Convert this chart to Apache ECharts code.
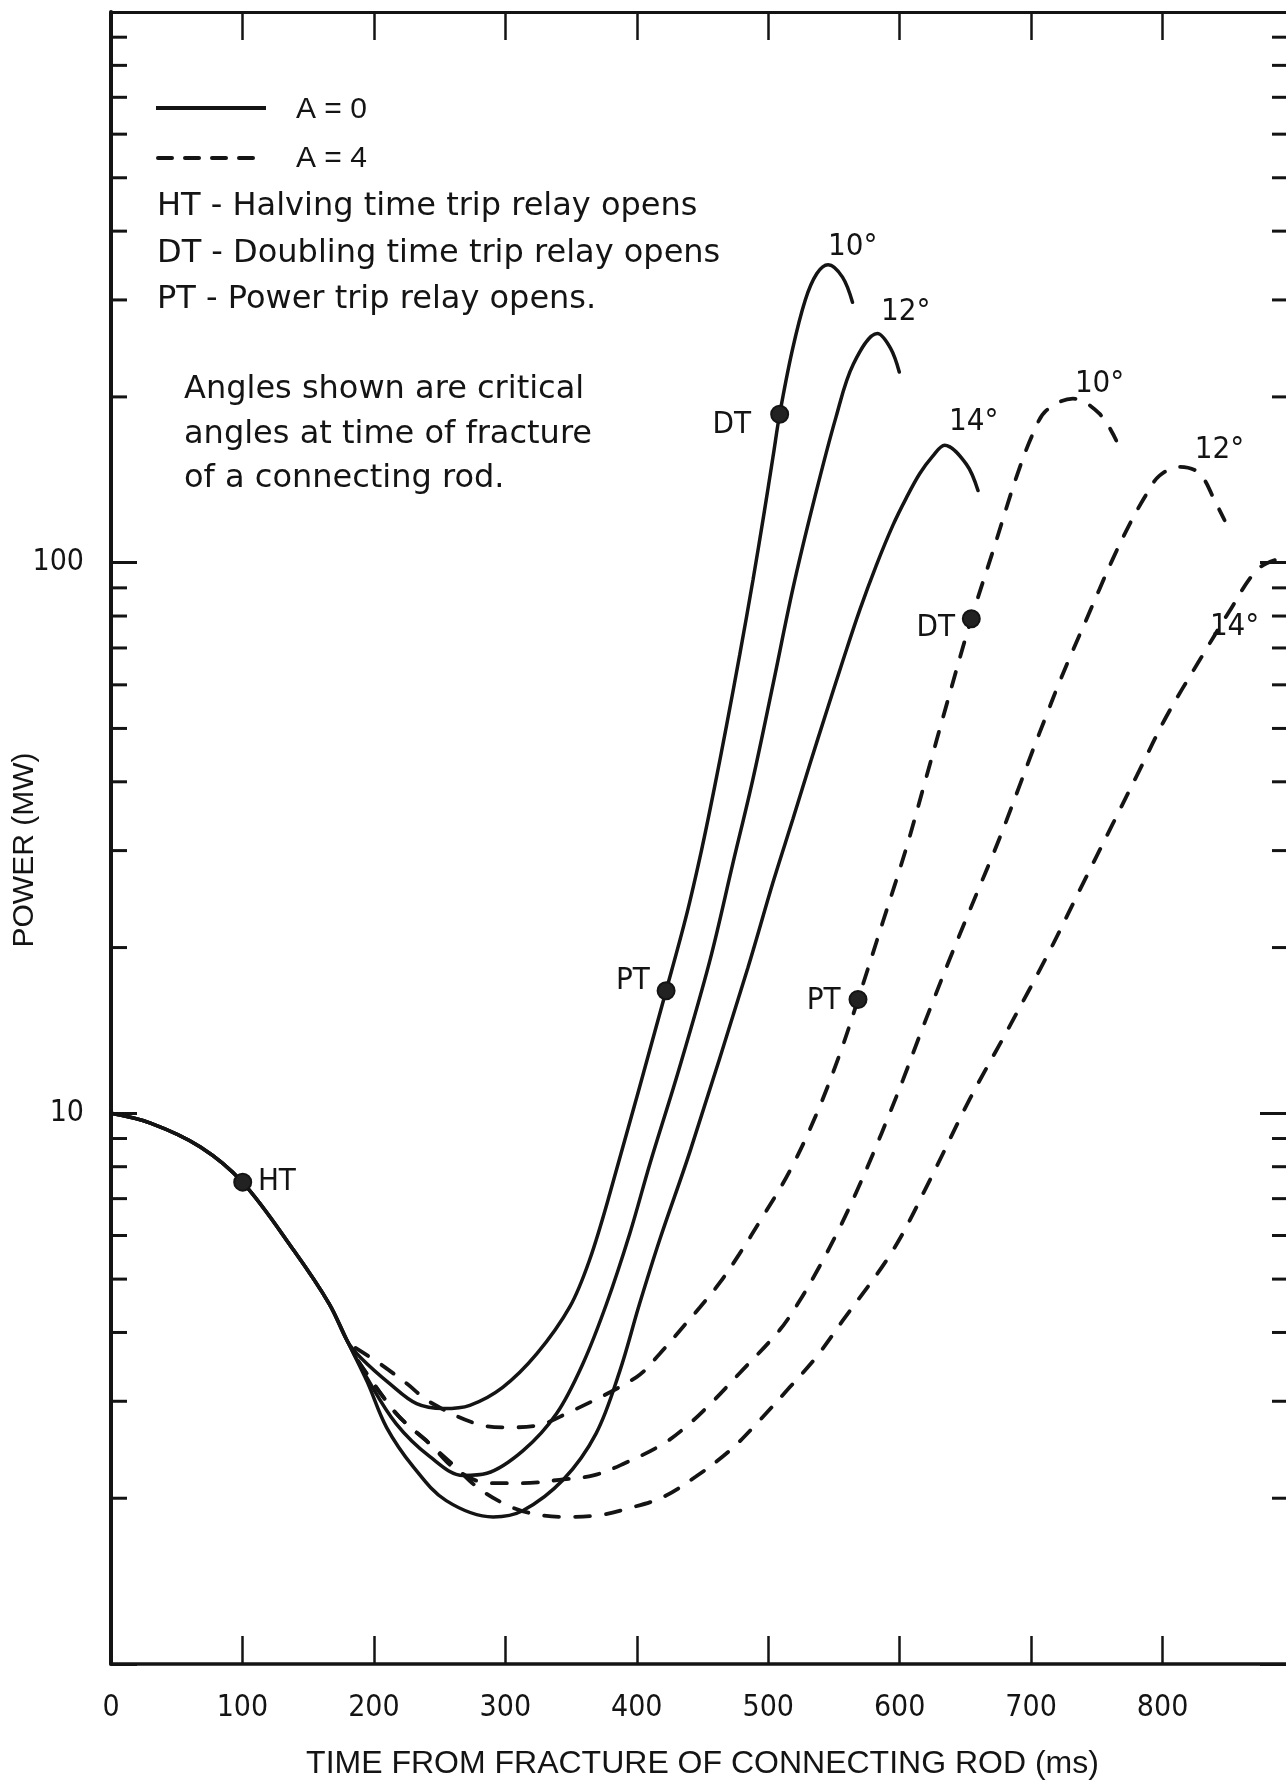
<!DOCTYPE html>
<html>
<head>
<meta charset="utf-8">
<title>Power after connecting rod fracture</title>
<script src="https://cdn.jsdelivr.net/npm/echarts@6/dist/echarts.min.js"></script>
<style>
  html, body { margin: 0; padding: 0; background: #fff; }
  #chart { width: 1286px; height: 1783px; }
</style>
</head>
<body>
<div id="chart"></div>
<script>
const ink = '#141414';
const narrow = "'DejaVu Sans Condensed', 'Liberation Sans', sans-serif";
const plain = "'DejaVu Sans', sans-serif";
const sans = "'Liberation Sans', 'DejaVu Sans', sans-serif";

// [time (ms), power (MW)]
// common start of all curves
const trunk = [[0, 10], [30, 9.6], [68, 8.69], [100, 7.5], [139, 5.64], [166, 4.51], [180, 3.85]];

// A = 0 (solid)
const solid10 = [[190, 3.6], [212, 3.23], [232.5, 2.97], [253, 2.91], [273, 2.95], [298, 3.18], [324, 3.66],
  [349, 4.45], [364, 5.41], [379.5, 7.15], [422.3, 16.7], [437.8, 22.9], [449.2, 30], [458.6, 38.5],
  [468.2, 50.5], [478.3, 68], [488.4, 93], [496.6, 122], [503.7, 156], [508.7, 186], [518.3, 243],
  [528.2, 300], [537, 335], [545.6, 347.6], [556.5, 330], [564.1, 297]];
const solid12 = [[195, 3.3], [217, 2.73], [242.6, 2.38], [268, 2.2], [286, 2.22], [313.5, 2.44], [339, 2.85],
  [359, 3.51], [377, 4.51], [394.7, 6.05], [410, 8.1], [432, 12], [455.5, 18.9], [473.2, 28.5], [488.4, 40.5],
  [503.7, 60.2], [518.9, 90], [534.8, 129.6], [551.5, 183.6], [564.8, 229.5], [583.1, 260.7],
  [593.1, 245], [599.7, 222]];
const solid14 = [[195, 3.25], [209.6, 2.69], [230, 2.28], [255, 1.98], [290.7, 1.85], [313.5, 1.9], [344, 2.16],
  [369, 2.62], [387, 3.4], [402, 4.5], [417.5, 5.9], [441, 8.6], [484.6, 18.4], [503.7, 26.3],
  [518.9, 34.3], [531.6, 43], [544.2, 53.5], [556.9, 66.5], [569.6, 82], [582.3, 99], [594.9, 117],
  [605, 131], [615.2, 145], [625, 156], [634.2, 163.4], [650.7, 151], [659.6, 135.2]];

// A = 4 (dashed)
const dashed10 = [[186, 3.75], [204.6, 3.51], [225, 3.23], [242.6, 2.99], [278, 2.73], [301, 2.69], [323.7, 2.71],
  [344, 2.83], [399.8, 3.32], [417.5, 3.66], [432.7, 4.03], [447.9, 4.44], [463, 4.92], [478, 5.55],
  [496, 6.5], [516.3, 7.85], [536.6, 9.95], [554.4, 12.8], [568.3, 16.09], [587.3, 22.3], [605, 30.3],
  [620.3, 40.8], [635.5, 55], [654.5, 79.1], [671, 105], [688.8, 143], [701.4, 171.5], [711.6, 189],
  [731.8, 198.6], [752, 186.4], [764.8, 166.7]];
const dashed12 = [[188, 3.55], [217, 2.85], [242.6, 2.51], [263, 2.25], [288, 2.13], [313.5, 2.13], [341, 2.16],
  [367, 2.2], [390, 2.31], [420, 2.51], [440, 2.73], [458, 3.0], [478, 3.37], [508.7, 4.04], [524, 4.57],
  [539, 5.27], [554.4, 6.2], [567, 7.19], [579.7, 8.44], [592.4, 10], [602.5, 11.5], [615, 13.8],
  [625.3, 15.96], [638, 19.05], [659.6, 25.4], [671, 29.5], [681, 33.9], [691.3, 39.4], [701.4, 45.7],
  [711.6, 52.8], [721.7, 60.8], [731.8, 69.3], [741.9, 78.7], [752, 89.5], [762, 101.4], [775, 117.5],
  [787.6, 133], [797.7, 143.9], [812.9, 149.3], [828, 145.3], [840.8, 128], [847.2, 119.4]];
const dashed14 = [[188, 3.55], [217, 2.85], [242.6, 2.51], [262, 2.28], [278, 2.1], [298, 1.96], [318.6, 1.88],
  [344, 1.85], [369, 1.86], [394.7, 1.92], [420, 2.01], [445, 2.19], [470.7, 2.44], [491, 2.73],
  [516.3, 3.18], [536.6, 3.61], [556.9, 4.21], [594.9, 5.64], [622.8, 7.55], [653.2, 10.6], [683.7, 14.4],
  [714, 19.7], [740, 26.3], [762, 33.5], [782.5, 42], [802.8, 52.5], [828, 66.4], [851, 81.7],
  [871, 96.6], [885, 101], [900, 102.3]];

// trip relay points (HT, PT, DT, PT, DT)
const tripTime = [100.2, 422.3, 508.7, 568.3, 654.5];
const tripPower = [7.5, 16.7, 186, 16.09, 79.1];

// curve annotations
const noteText = ['10°', '12°', '14°', '10°', '12°', '14°', 'DT', 'DT', 'PT', 'PT', 'HT'];
const noteTime = [564.3, 604.6, 656.3, 752.1, 843.3, 854.8, 472.2, 627.4, 397, 542.2, 126.2];
const notePower = [375, 285, 180, 211, 160, 76.3, 178.2, 76.0, 17.4, 16.0, 7.49];

// axes
const xTicks = [0, 100, 200, 300, 400, 500, 600, 700, 800];
const yLabels = [10, 100];
const minorTickValues = [2, 3, 4, 5, 6, 7, 8, 9, 20, 30, 40, 50, 60, 70, 80, 90,
  200, 300, 400, 500, 600, 700, 800, 900];

const legendNames = ['A = 0', 'A = 4'];
const keyLines = [
  'HT - Halving time trip relay opens',
  'DT - Doubling time trip relay opens',
  'PT - Power trip relay opens.'
];
const remarkLines = [
  'Angles shown are critical',
  'angles at time of fracture',
  'of a connecting rod.'
];

const chart = echarts.init(document.getElementById('chart'), null, { renderer: 'canvas' });

function curve(name, branch, dashed, withTrunk) {
  return {
    name: name,
    type: 'line',
    data: withTrunk ? trunk.concat(branch) : branch,
    showSymbol: false,
    symbol: 'none',
    smooth: 0.35,
    silent: true,
    z: 3,
    lineStyle: { color: ink, width: dashed ? 3.8 : 3.5, type: dashed ? [15, 16] : 'solid', cap: 'round' },
    itemStyle: { color: ink }
  };
}

// key in the upper left corner
const keyGraphics = [
  { type: 'line', shape: { x1: 156, y1: 108, x2: 266, y2: 108 }, style: { stroke: ink, lineWidth: 4 } },
  { type: 'line', shape: { x1: 158, y1: 158, x2: 266, y2: 158 }, style: { stroke: ink, lineWidth: 4, lineDash: [14, 13], lineCap: 'round' } },
  { type: 'text', x: 296, y: 110, style: { text: legendNames[0], fontSize: 30, fontFamily: sans, fill: ink, verticalAlign: 'middle' } },
  { type: 'text', x: 296, y: 159, style: { text: legendNames[1], fontSize: 30, fontFamily: sans, fill: ink, verticalAlign: 'middle' } }
];
keyLines.forEach((s, i) => {
  keyGraphics.push({
    type: 'text', x: 157, y: 207 + i * 46.5,
    style: { text: s, fontSize: 32, fontFamily: plain, fill: ink, verticalAlign: 'middle' }
  });
});
remarkLines.forEach((s, i) => {
  keyGraphics.push({
    type: 'text', x: 184, y: 390 + i * 44.5,
    style: { text: s, fontSize: 32, fontFamily: plain, fill: ink, verticalAlign: 'middle' }
  });
});

chart.setOption({
  backgroundColor: '#fff',
  animation: false,
  grid: { left: 111, right: -8, top: 12, bottom: 119, outerBoundsMode: 'none', containLabel: false },
  xAxis: [
    {
      type: 'value', position: 'bottom', min: 0, max: 900, interval: 100,
      name: 'TIME FROM FRACTURE OF CONNECTING ROD (ms)',
      nameLocation: 'middle', nameGap: 84, nameMoveOverlap: false,
      nameTextStyle: { fontSize: 32, lineHeight: 32, fontFamily: sans, color: ink },
      axisLine: { show: true, onZero: false, lineStyle: { color: ink, width: 3.5 } },
      axisTick: { show: true, inside: true, length: 28, lineStyle: { color: ink, width: 2.5 } },
      axisLabel: {
        show: true, margin: 29, fontSize: 30, lineHeight: 30, fontFamily: narrow, color: ink,
        formatter: v => (xTicks.indexOf(v) >= 0 ? String(v) : '')
      },
      splitLine: { show: false }
    },
    {
      type: 'value', position: 'top', min: 0, max: 900, interval: 100,
      axisLine: { show: true, onZero: false, lineStyle: { color: ink, width: 3 } },
      axisTick: { show: true, inside: true, length: 28, lineStyle: { color: ink, width: 2.5 } },
      axisLabel: { show: false },
      splitLine: { show: false }
    }
  ],
  yAxis: [
    {
      type: 'log', logBase: 10, min: 1, max: 1000, position: 'left',
      name: 'POWER (MW)', nameLocation: 'middle', nameGap: 71, nameRotate: 90, nameMoveOverlap: false,
      nameTextStyle: { fontSize: 30, fontFamily: sans, color: ink, padding: [0, 24, 0, 0] },
      axisLine: { show: true, onZero: false, lineStyle: { color: ink, width: 4 } },
      axisTick: { show: true, inside: true, length: 26, lineStyle: { color: ink, width: 3 } },
      axisLabel: {
        show: true, margin: 27, fontSize: 30, fontFamily: narrow, color: ink,
        formatter: v => (yLabels.indexOf(Math.round(v)) >= 0 ? String(Math.round(v)) : '')
      },
      splitLine: { show: false }
    },
    {
      type: 'log', logBase: 10, min: 1, max: 1000, position: 'right',
      axisLine: { show: true, onZero: false, lineStyle: { color: ink, width: 3 } },
      axisTick: { show: true, inside: true, length: 34, lineStyle: { color: ink, width: 3 } },
      axisLabel: { show: false },
      splitLine: { show: false }
    }
  ],
  graphic: keyGraphics,
  series: [
    curve('A = 0', solid10, false, true),
    curve('A = 0', solid12, false, true),
    curve('A = 0', solid14, false, true),
    curve('A = 4', dashed10, true, false),
    curve('A = 4', dashed12, true, false),
    curve('A = 4', dashed14, true, false),
    {
      // minor log ticks on both sides of the frame
      type: 'custom',
      silent: true,
      clip: false,
      z: 2,
      data: minorTickValues.map(v => [0, v]),
      renderItem: (params, api) => {
        const cs = params.coordSys;
        const y = api.coord([0, api.value(1)])[1];
        return {
          type: 'group',
          children: [
            { type: 'line', shape: { x1: cs.x, y1: y, x2: cs.x + 16, y2: y }, style: { stroke: ink, lineWidth: 3 } },
            { type: 'line', shape: { x1: cs.x + cs.width - 22, y1: y, x2: cs.x + cs.width, y2: y }, style: { stroke: ink, lineWidth: 3 } }
          ]
        };
      }
    },
    {
      type: 'scatter',
      silent: true,
      z: 4,
      symbol: 'circle',
      symbolSize: 17,
      itemStyle: { color: '#222', borderColor: ink, borderWidth: 2, opacity: 1 },
      data: tripTime.map((t, i) => [t, tripPower[i]])
    },
    {
      type: 'scatter',
      silent: true,
      z: 5,
      symbolSize: 1,
      itemStyle: { color: 'rgba(255,255,255,0)', opacity: 1 },
      label: {
        show: true, position: 'inside', formatter: '{b}',
        fontSize: 31, fontFamily: narrow, color: ink, opacity: 1
      },
      data: noteText.map((s, i) => ({ name: s, value: [noteTime[i], notePower[i]] }))
    }
  ]
});
</script>
</body>
</html>
